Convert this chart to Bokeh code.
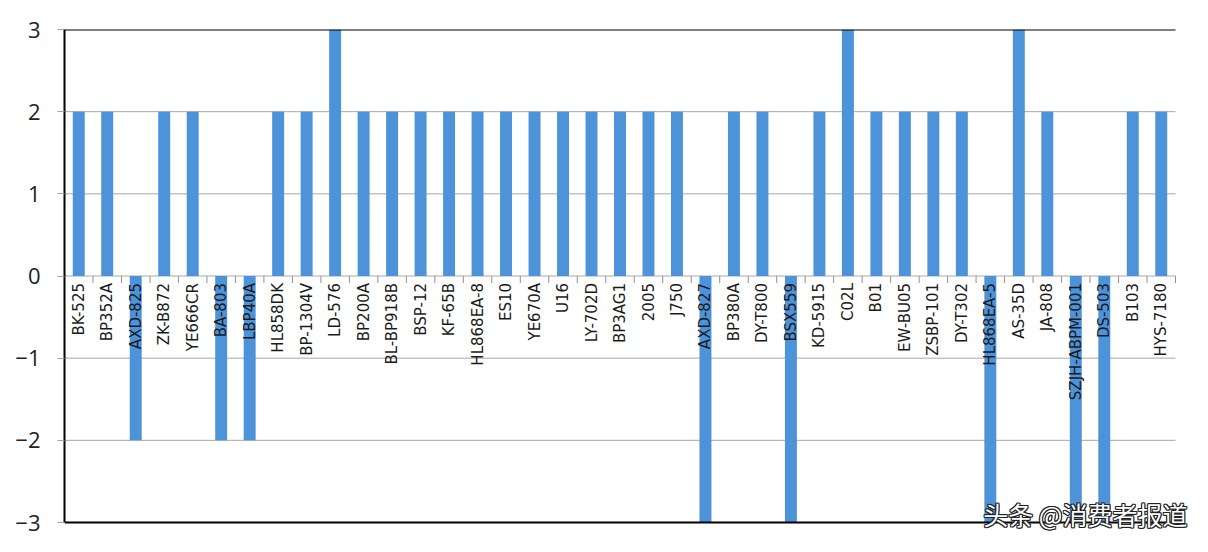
import math
from bokeh.plotting import figure
from bokeh.models import Range1d, ColumnDataSource, Label, FixedTicker
from bokeh.core.properties import value
from bokeh.embed import file_html
from bokeh.resources import INLINE

categories = ["BK-525", "BP352A", "AXD-825", "ZK-B872", "YE666CR", "BA-803", "LBP40A",
              "HL858DK", "BP-1304V", "LD-576", "BP200A", "BL-BP918B", "BSP-12", "KF-65B",
              "HL868EA-8", "ES10", "YE670A", "U16", "LY-702D", "BP3AG1", "2005", "J750",
              "AXD-827", "BP380A", "DY-T800", "BSX559", "KD-5915", "C02L", "B01", "EW-BU05",
              "ZSBP-101", "DY-T302", "HL868EA-5", "AS-35D", "JA-808", "SZJH-ABPM-001",
              "DS-503", "B103", "HYS-7180"]
values = [2, 2, -2, 2, 2, -2, -2, 2, 2, 3, 2, 2, 2, 2, 2, 2, 2, 2, 2, 2, 2, 2,
          -3, 2, 2, -3, 2, 3, 2, 2, 2, 2, -3, 3, 2, -3, -3, 2, 2]
y_ticks = [-3, -2, -1, 0, 1, 2, 3]
watermark = "头条 @消费者报道"

n = len(categories)
idx = list(range(n))

W, H = 1192, 536
LEFT, TOP = 64, 29
PLOT_RIGHT, PLOT_BOTTOM = 1175, 522      # where the category area / y=-3 end
ymin, ymax = y_ticks[0], y_ticks[-1]
px_per_cat = (PLOT_RIGHT - LEFT) / n
px_per_unit = (PLOT_BOTTOM - TOP) / (ymax - ymin)
x_end = (n - 0.5) + (W - PLOT_RIGHT) / px_per_cat
y_start = ymin - (H - PLOT_BOTTOM) / px_per_unit

p = figure(width=W, height=H, output_backend="svg", toolbar_location=None,
           x_range=Range1d(-0.5, x_end), y_range=Range1d(y_start, ymax),
           min_border_left=LEFT, min_border_top=TOP, min_border_right=0, min_border_bottom=0)
p.outline_line_color = None
p.background_fill_color = "white"
p.border_fill_color = "white"
p.xaxis.visible = False
p.xgrid.visible = False
p.ygrid.visible = False

ax = p.yaxis[0]
ax.ticker = FixedTicker(ticks=y_ticks)
ax.bounds = (ymin, ymax)
ax.axis_line_color = "black"
ax.axis_line_width = 2
ax.major_tick_line_color = "#a0a0a0"
ax.major_tick_out = 7
ax.major_tick_in = 0
ax.minor_tick_line_color = None
ax.major_label_text_font = "Open Sans"
ax.major_label_text_font_size = "22px"
ax.major_label_text_color = "#222222"
ax.major_label_standoff = 17

# horizontal grid lines (inner ticks gray, outer ones black)
inner = [t for t in y_ticks if ymin < t < ymax]
p.segment(x0=[-0.5] * len(inner), x1=[n - 0.5] * len(inner), y0=inner, y1=inner,
          line_color="#a8a8a8", line_width=1)

src = ColumnDataSource(dict(x=idx, top=values, label=categories))
p.vbar(x="x", top="top", bottom=0, width=0.42, source=src,
       fill_color="#4d93d9", line_color=None)

p.segment(x0=[-0.5, -0.5], x1=[n - 0.5, n - 0.5], y0=[ymin, ymax], y1=[ymin, ymax],
          line_color="black", line_width=2)

# category tick marks below zero line, at category boundaries
tick_len = 7 / px_per_unit
bounds = [i - 0.5 for i in range(1, n + 1)]
p.segment(x0=bounds, y0=[0] * len(bounds), x1=bounds, y1=[-tick_len] * len(bounds),
          line_color="#909090", line_width=1)

p.text(x="x", y=0, text="label", source=src, angle=math.pi / 2,
       text_align="right", text_baseline="middle", y_offset=7,
       text_font=value("DejaVu Sans"), text_font_size="15px", text_color="#1a1a1a")

WX, WY = 12, 9
for dx, dy in [(-1, 0), (1, 0), (0, -1), (0, 1), (1, 1), (-1, -1), (1, -1), (-1, 1)]:
    p.add_layout(Label(x=n - 0.5, y=ymin, text=watermark, x_offset=WX + dx, y_offset=WY + dy,
                       text_align="right", text_baseline="middle",
                       text_font="Noto Sans CJK SC", text_font_size="25px",
                       text_color="#222222"))
p.add_layout(Label(x=n - 0.5, y=ymin, text=watermark, x_offset=WX, y_offset=WY,
                   text_align="right", text_baseline="middle",
                   text_font="Noto Sans CJK SC", text_font_size="25px",
                   text_color="white"))

open("out.html", "w").write(file_html(p, INLINE))
